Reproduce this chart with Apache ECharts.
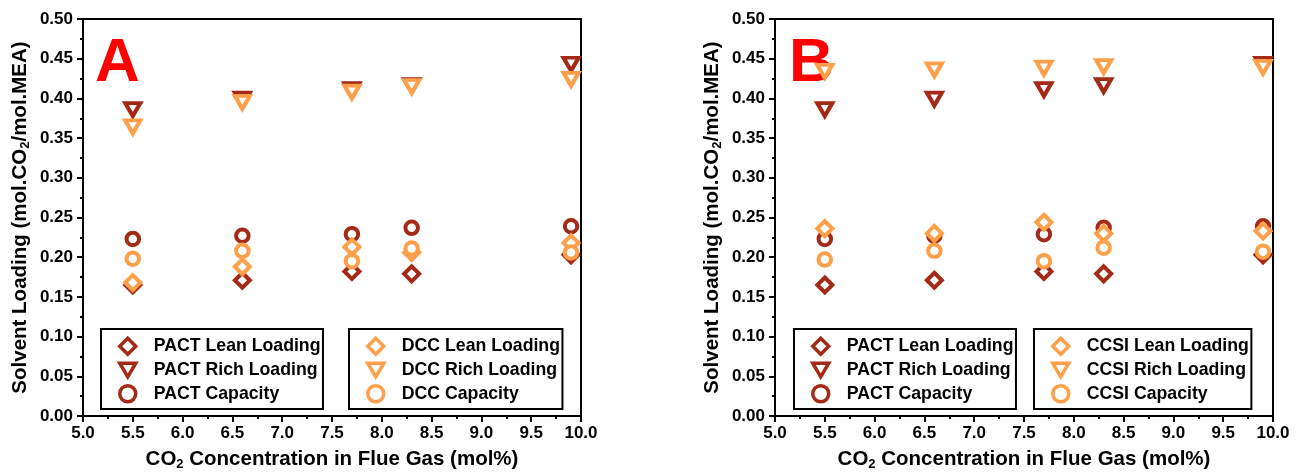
<!DOCTYPE html>
<html>
<head>
<meta charset="utf-8">
<script src="https://cdn.jsdelivr.net/npm/echarts@6/dist/echarts.min.js"></script>
<style>
  html, body { margin: 0; padding: 0; background: #fff; }
  #chart { width: 1302px; height: 476px; }
</style>
</head>
<body>
<div id="chart"></div>
<script>
// 数据
const co2Conc = [5.5, 6.6, 7.7, 8.3, 9.9];

const pactLean = [0.165, 0.171, 0.182, 0.179, 0.203];
const pactRich = [0.386, 0.399, 0.411, 0.416, 0.443];
const pactCap = [0.223, 0.227, 0.229, 0.237, 0.239];

const dccLean = [0.168, 0.188, 0.213, 0.206, 0.218];
const dccRich = [0.364, 0.395, 0.408, 0.415, 0.424];
const dccCap = [0.198, 0.208, 0.195, 0.211, 0.206];

const ccsiLean = [0.236, 0.230, 0.244, 0.230, 0.233];
const ccsiRich = [0.434, 0.436, 0.438, 0.440, 0.439];
const ccsiCap = [0.197, 0.208, 0.195, 0.212, 0.207];

const DARK = "#a32a16";
const ORANGE = "#ff9f4a";
const FONT = "'Liberation Sans', Arial, sans-serif";
const TRI_DOWN = "path://M0,0L20,0L10,17Z";

const pair = (ys) => co2Conc.map((x, i) => [x, ys[i]]);

// 散点系列
function scatter(name, ys, idx, color, shape) {
  let symbol = "circle";
  let size = 12.5;
  if (shape === "diamond") {
    symbol = "diamond";
    size = 15;
  } else if (shape === "tri") {
    symbol = TRI_DOWN;
    size = [15, 13];
  }
  return {
    name,
    type: "scatter",
    xAxisIndex: idx,
    yAxisIndex: idx,
    symbol,
    symbolSize: size,
    itemStyle: { color: "#fff", borderColor: color, borderWidth: 4, opacity: 1 },
    emphasis: { disabled: true },
    data: pair(ys),
  };
}

const titleRich = {
  a: { fontSize: 20.5, fontWeight: "bold", fontFamily: FONT, color: "#000" },
  s: { fontSize: 13, fontWeight: "bold", fontFamily: FONT, color: "#000", padding: [10, 0, 0, 0] },
};

function xAxisOf(idx) {
  return {
    gridIndex: idx,
    type: "value",
    min: 5,
    max: 10,
    interval: 0.5,
    name: "{a|CO}{s|2}{a| Concentration in Flue Gas (mol%)}",
    nameLocation: "middle",
    nameGap: 32,
    nameTextStyle: { rich: titleRich },
    axisLine: { lineStyle: { color: "#000", width: 2 } },
    axisTick: { length: 6, lineStyle: { color: "#000", width: 2 } },
    minorTick: { show: true, splitNumber: 2, length: 3, lineStyle: { color: "#000", width: 2 } },
    axisLabel: {
      margin: 9,
      color: "#000",
      fontSize: 17,
      fontWeight: "bold",
      fontFamily: FONT,
      formatter: (v) => v.toFixed(1),
    },
    splitLine: { show: false },
  };
}

function yAxisOf(idx) {
  return {
    gridIndex: idx,
    type: "value",
    min: 0,
    max: 0.5,
    interval: 0.05,
    name: "{a|Solvent Loading (mol.CO}{s|2}{a|/mol.MEA)}",
    nameLocation: "middle",
    nameRotate: 90,
    nameGap: 51,
    nameTextStyle: { rich: titleRich },
    axisLine: { lineStyle: { color: "#000", width: 2 } },
    axisTick: { length: 6, lineStyle: { color: "#000", width: 2 } },
    minorTick: { show: true, splitNumber: 2, length: 3, lineStyle: { color: "#000", width: 2 } },
    axisLabel: {
      margin: 10,
      color: "#000",
      fontSize: 17,
      fontWeight: "bold",
      fontFamily: FONT,
      formatter: (v) => v.toFixed(2),
    },
    splitLine: { show: false },
  };
}

function legendOf(left, names) {
  return {
    left,
    top: 329,
    orient: "vertical",
    data: names,
    selectedMode: false,
    itemWidth: 16,
    itemHeight: 16,
    itemGap: 5,
    padding: [7.5, 2.5, 5.5, 17],
    borderColor: "#000",
    borderWidth: 2,
    itemStyle: { borderWidth: 3.5 },
    textStyle: {
      color: "#000",
      fontSize: 17.7,
      fontWeight: "bold",
      fontFamily: FONT,
      padding: [0, 0, 0, 13],
    },
  };
}

const pactNames = ["PACT Lean Loading", "PACT Rich Loading", "PACT Capacity"];
const dccNames = ["DCC Lean Loading", "DCC Rich Loading", "DCC Capacity"];
const ccsiNames = ["CCSI Lean Loading", "CCSI Rich Loading", "CCSI Capacity"];

const options = {
  animation: false,
  grid: [
    { left: 83, top: 19, width: 498, height: 400, show: true, borderColor: "#000", borderWidth: 2, backgroundColor: "transparent" },
    { left: 775, top: 19, width: 498, height: 400, show: true, borderColor: "#000", borderWidth: 2, backgroundColor: "transparent" },
  ],
  xAxis: [xAxisOf(0), xAxisOf(1)],
  yAxis: [yAxisOf(0), yAxisOf(1)],
  legend: [
    legendOf(101, pactNames),
    legendOf(349, dccNames),
    legendOf(794, pactNames),
    legendOf(1034, ccsiNames),
  ],
  graphic: [
    {
      type: "text",
      left: 95,
      top: 33,
      style: { text: "A", fill: "#ff0000", font: "bold 62px " + FONT },
    },
    {
      type: "text",
      left: 789,
      top: 33,
      style: { text: "B", fill: "#ff0000", font: "bold 62px " + FONT },
    },
  ],
  series: [
    scatter(pactNames[0], pactLean, 0, DARK, "diamond"),
    scatter(pactNames[1], pactRich, 0, DARK, "tri"),
    scatter(pactNames[2], pactCap, 0, DARK, "circle"),
    scatter(dccNames[0], dccLean, 0, ORANGE, "diamond"),
    scatter(dccNames[1], dccRich, 0, ORANGE, "tri"),
    scatter(dccNames[2], dccCap, 0, ORANGE, "circle"),
    scatter(pactNames[0], pactLean, 1, DARK, "diamond"),
    scatter(pactNames[1], pactRich, 1, DARK, "tri"),
    scatter(pactNames[2], pactCap, 1, DARK, "circle"),
    scatter(ccsiNames[0], ccsiLean, 1, ORANGE, "diamond"),
    scatter(ccsiNames[1], ccsiRich, 1, ORANGE, "tri"),
    scatter(ccsiNames[2], ccsiCap, 1, ORANGE, "circle"),
  ],
};

const chart = echarts.init(document.getElementById("chart"));
chart.setOption(options);
window.addEventListener("resize", () => chart.resize());
</script>
</body>
</html>
